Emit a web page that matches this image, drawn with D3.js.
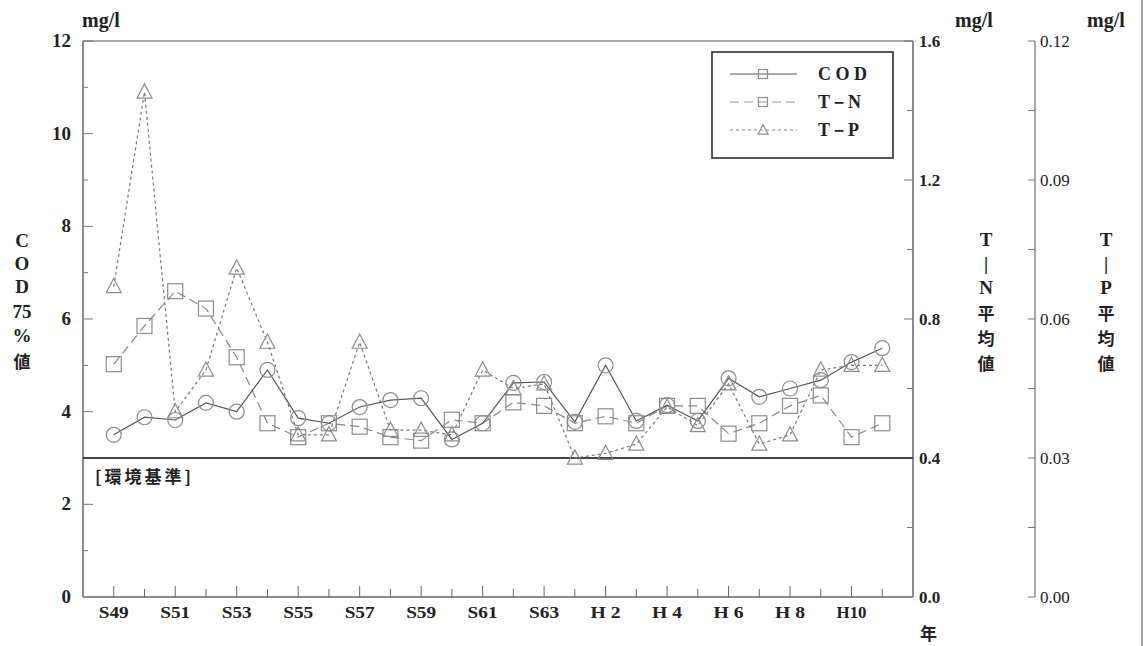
<!DOCTYPE html>
<html>
<head>
<meta charset="utf-8">
<script src="https://cdn.jsdelivr.net/npm/d3@7"></script>
<style>
  html, body { margin: 0; padding: 0; background: #fff; }
  svg { display: block; }
  .num { font-family: "Liberation Serif", "DejaVu Serif", serif; fill: #222; }
  .jp { font-family: "Noto Sans CJK JP", "Noto Sans", sans-serif; fill: #222; }
</style>
</head>
<body>
<svg id="chart" width="1147" height="646"></svg>
<script>
// Fiscal years (Showa 49 .. Heisei 11)
const years = ["S49","S50","S51","S52","S53","S54","S55","S56","S57","S58","S59","S60","S61","S62","S63",
               "H1","H2","H3","H4","H5","H6","H7","H8","H9","H10","H11"];
// Labels shown under every second year
const yearLabels = ["S49","S51","S53","S55","S57","S59","S61","S63","H 2","H 4","H 6","H 8","H10"];

// COD 75% value (mg/l)
const cod = [3.5,3.88,3.82,4.19,4.0,4.9,3.86,3.75,4.1,4.25,4.29,3.4,3.75,4.62,4.64,
             3.78,5.0,3.8,4.14,3.8,4.72,4.32,4.5,4.68,5.07,5.37];
// T-N mean value (mg/l)
const tn = [0.67,0.78,0.88,0.83,0.69,0.50,0.46,0.50,0.49,0.46,0.45,0.51,0.50,0.56,0.55,
            0.50,0.52,0.50,0.55,0.55,0.47,0.50,0.55,0.58,0.46,0.50];
// T-P mean value (mg/l)
const tp = [0.067,0.109,0.040,0.049,0.071,0.055,0.035,0.035,0.055,0.036,0.036,0.035,0.049,0.045,0.046,
            0.030,0.031,0.033,0.041,0.037,0.046,0.033,0.035,0.049,0.050,0.050];

// Axis ranges and ticks
const codTicks = [0,2,4,6,8,10,12];
const tnTicks = [0.0,0.4,0.8,1.2,1.6];
const tpTicks = [0.00,0.03,0.06,0.09,0.12];
const codStandard = 3; // environmental standard line

const svg = d3.select("#chart");
const L = 83, R = 913, T = 41, B = 597;

const x = d3.scaleLinear().domain([-1, 26]).range([L, R]);
const yCod = d3.scaleLinear().domain([0, 12]).range([B, T]);
const yTn = d3.scaleLinear().domain([0, 1.6]).range([B, T]);
const yTp = d3.scaleLinear().domain([0, 0.12]).range([B, T]);

const axisColor = "#8a8a8a";

// frame: top border
svg.append("line").attr("x1", L).attr("x2", R).attr("y1", T).attr("y2", T)
  .attr("stroke", "#aaa").attr("stroke-width", 2);
// right edge rule of the page
svg.append("line").attr("x1", 1142).attr("x2", 1142).attr("y1", 0).attr("y2", 646)
  .attr("stroke", "#888").attr("stroke-width", 1.5);

// Left COD axis (ticks pointing inward)
const gL = svg.append("g").attr("transform", `translate(${L},0)`);
gL.append("line").attr("y1", T).attr("y2", B).attr("stroke", axisColor).attr("stroke-width", 2);
d3.range(0, 13, 1).forEach(v => {
  const major = v % 2 === 0;
  gL.append("line").attr("x1", 0).attr("x2", major ? 10 : 5)
    .attr("y1", yCod(v)).attr("y2", yCod(v)).attr("stroke", "#777").attr("stroke-width", 1);
});
codTicks.forEach(v => {
  gL.append("text").attr("class", "num").attr("x", -12).attr("y", yCod(v) + 6)
    .attr("text-anchor", "end").attr("font-size", 19).attr("font-weight", "bold").text(v);
});

// Right T-N axis (ticks pointing into the plot)
const gN = svg.append("g").attr("transform", `translate(${R},0)`);
gN.append("line").attr("y1", T).attr("y2", B).attr("stroke", axisColor).attr("stroke-width", 2);
d3.range(0, 9).forEach(i => {
  const v = i * 0.2;
  const major = i % 2 === 0;
  gN.append("line").attr("x1", 0).attr("x2", major ? -9 : -6)
    .attr("y1", yTn(v)).attr("y2", yTn(v)).attr("stroke", "#777").attr("stroke-width", 1);
});
tnTicks.forEach(v => {
  gN.append("text").attr("class", "num").attr("x", 6).attr("y", yTn(v) + 6)
    .attr("font-size", 17).attr("font-weight", "bold").text(d3.format(".1f")(v));
});

// Outer T-P axis
const PX = 1035;
const gP = svg.append("g").attr("transform", `translate(${PX},0)`);
gP.append("line").attr("y1", T).attr("y2", B).attr("stroke", axisColor).attr("stroke-width", 1.5);
d3.range(0, 9).forEach(i => {
  const v = i * 0.015;
  gP.append("line").attr("x1", 0).attr("x2", -7)
    .attr("y1", yTp(v)).attr("y2", yTp(v)).attr("stroke", "#777").attr("stroke-width", 1);
});
tpTicks.forEach(v => {
  gP.append("text").attr("class", "num").attr("x", 5).attr("y", yTp(v) + 6)
    .attr("font-size", 17).text(d3.format(".2f")(v));
});

// Bottom year axis (ticks pointing up)
const gB = svg.append("g").attr("transform", `translate(0,${B})`);
gB.append("line").attr("x1", L).attr("x2", R).attr("stroke", axisColor).attr("stroke-width", 2);
years.forEach((yr, i) => {
  gB.append("line").attr("x1", x(i)).attr("x2", x(i)).attr("y1", 0).attr("y2", i % 2 === 0 ? -11 : -8)
    .attr("stroke", "#666").attr("stroke-width", 1);
});
yearLabels.forEach((lab, k) => {
  gB.append("text").attr("class", "num").attr("x", x(k * 2)).attr("y", 21)
    .attr("text-anchor", "middle").attr("font-size", 16).attr("font-weight", "bold")
    .attr("textLength", 30).attr("lengthAdjust", "spacingAndGlyphs").text(lab);
});

// Environmental standard line
svg.append("line").attr("x1", L).attr("x2", R).attr("y1", yCod(codStandard)).attr("y2", yCod(codStandard))
  .attr("stroke", "#444").attr("stroke-width", 2.2);
svg.append("text").attr("class", "jp").attr("x", 95).attr("y", yCod(codStandard) + 25)
  .attr("font-size", 17).attr("font-weight", "bold")
  .attr("textLength", 96).attr("lengthAdjust", "spacing").text("[環境基準]");

// Series
const lineFor = (arr, yScale) => d3.line().x((d, i) => x(i)).y(d => yScale(d))(arr);
const markerStroke = "#8c8c8c";

function square(g, cx, cy, s) {
  g.append("rect").attr("x", cx - s / 2).attr("y", cy - s / 2).attr("width", s).attr("height", s)
    .attr("fill", "none").attr("stroke", markerStroke).attr("stroke-width", 1.2);
}
function triangle(g, cx, cy, s) {
  const h = s * 0.9;
  g.append("path").attr("d", `M${cx},${cy - h * 0.6}L${cx + s / 2},${cy + h * 0.45}L${cx - s / 2},${cy + h * 0.45}Z`)
    .attr("fill", "none").attr("stroke", markerStroke).attr("stroke-width", 1.2);
}

// T-P (short dashes)
svg.append("path").attr("d", lineFor(tp, yTp)).attr("fill", "none")
  .attr("stroke", "#777").attr("stroke-width", 1.2).attr("stroke-dasharray", "3,3");
// T-N (long dashes)
svg.append("path").attr("d", lineFor(tn, yTn)).attr("fill", "none")
  .attr("stroke", "#888").attr("stroke-width", 1.2).attr("stroke-dasharray", "9,5");
// COD (solid)
svg.append("path").attr("d", lineFor(cod, yCod)).attr("fill", "none")
  .attr("stroke", "#555").attr("stroke-width", 1.2);

const gm = svg.append("g");
tp.forEach((v, i) => triangle(gm, x(i), yTp(v), 15));
tn.forEach((v, i) => square(gm, x(i), yTn(v), 15));
cod.forEach((v, i) => gm.append("circle").attr("cx", x(i)).attr("cy", yCod(v)).attr("r", 7.5)
  .attr("fill", "none").attr("stroke", markerStroke).attr("stroke-width", 1.2));

// Legend
const lg = svg.append("g");
lg.append("rect").attr("x", 712).attr("y", 52).attr("width", 181).attr("height", 106)
  .attr("fill", "#fff").attr("stroke", "#444").attr("stroke-width", 1.8);
const legendItems = [
  { name: "C O D", dash: null, color: "#555", mark: "sq" },
  { name: "T－N", dash: "9,5", color: "#999", mark: "sq" },
  { name: "T－P", dash: "3,3", color: "#888", mark: "tri" }
];
legendItems.forEach((it, k) => {
  const yy = 74 + k * 28;
  const ln = lg.append("line").attr("x1", 730).attr("x2", 797).attr("y1", yy).attr("y2", yy)
    .attr("stroke", it.color).attr("stroke-width", 1.2);
  if (it.dash) ln.attr("stroke-dasharray", it.dash);
  if (it.mark === "sq") square(lg, 763, yy, 9); else triangle(lg, 763, yy, 10);
  lg.append("text").attr("class", "num").attr("x", 818).attr("y", yy + 6)
    .attr("font-size", 18).attr("font-weight", "bold").text(it.name);
});

// Units
[[82, "mg/l"], [955, "mg/l"], [1087, "mg/l"]].forEach(([xx, t]) => {
  svg.append("text").attr("class", "num").attr("x", xx).attr("y", 27)
    .attr("font-size", 20).attr("font-weight", "bold").text(t);
});

// Vertical stacked axis titles
function stacked(cx, ys, chars) {
  chars.forEach((c, k) => {
    const t = svg.append("text").attr("x", cx).attr("y", ys[k])
      .attr("text-anchor", "middle").attr("font-weight", "bold");
    if (/[\u3000-\u9fff]/.test(c)) t.attr("class", "jp").attr("font-size", 17);
    else t.attr("class", "num").attr("font-size", 19);
    t.text(c);
  });
}
stacked(22, [247, 270, 293, 318, 342, 368], ["C", "O", "D", "75", "%", "値"]);
stacked(986, [246, 270, 294, 320, 345, 370], ["T", "|", "N", "平", "均", "値"]);
stacked(1106, [246, 270, 294, 320, 345, 370], ["T", "|", "P", "平", "均", "値"]);

// Year unit
svg.append("text").attr("class", "jp").attr("x", 920).attr("y", 640)
  .attr("font-size", 17).attr("font-weight", "bold").text("年");
</script>
</body>
</html>
